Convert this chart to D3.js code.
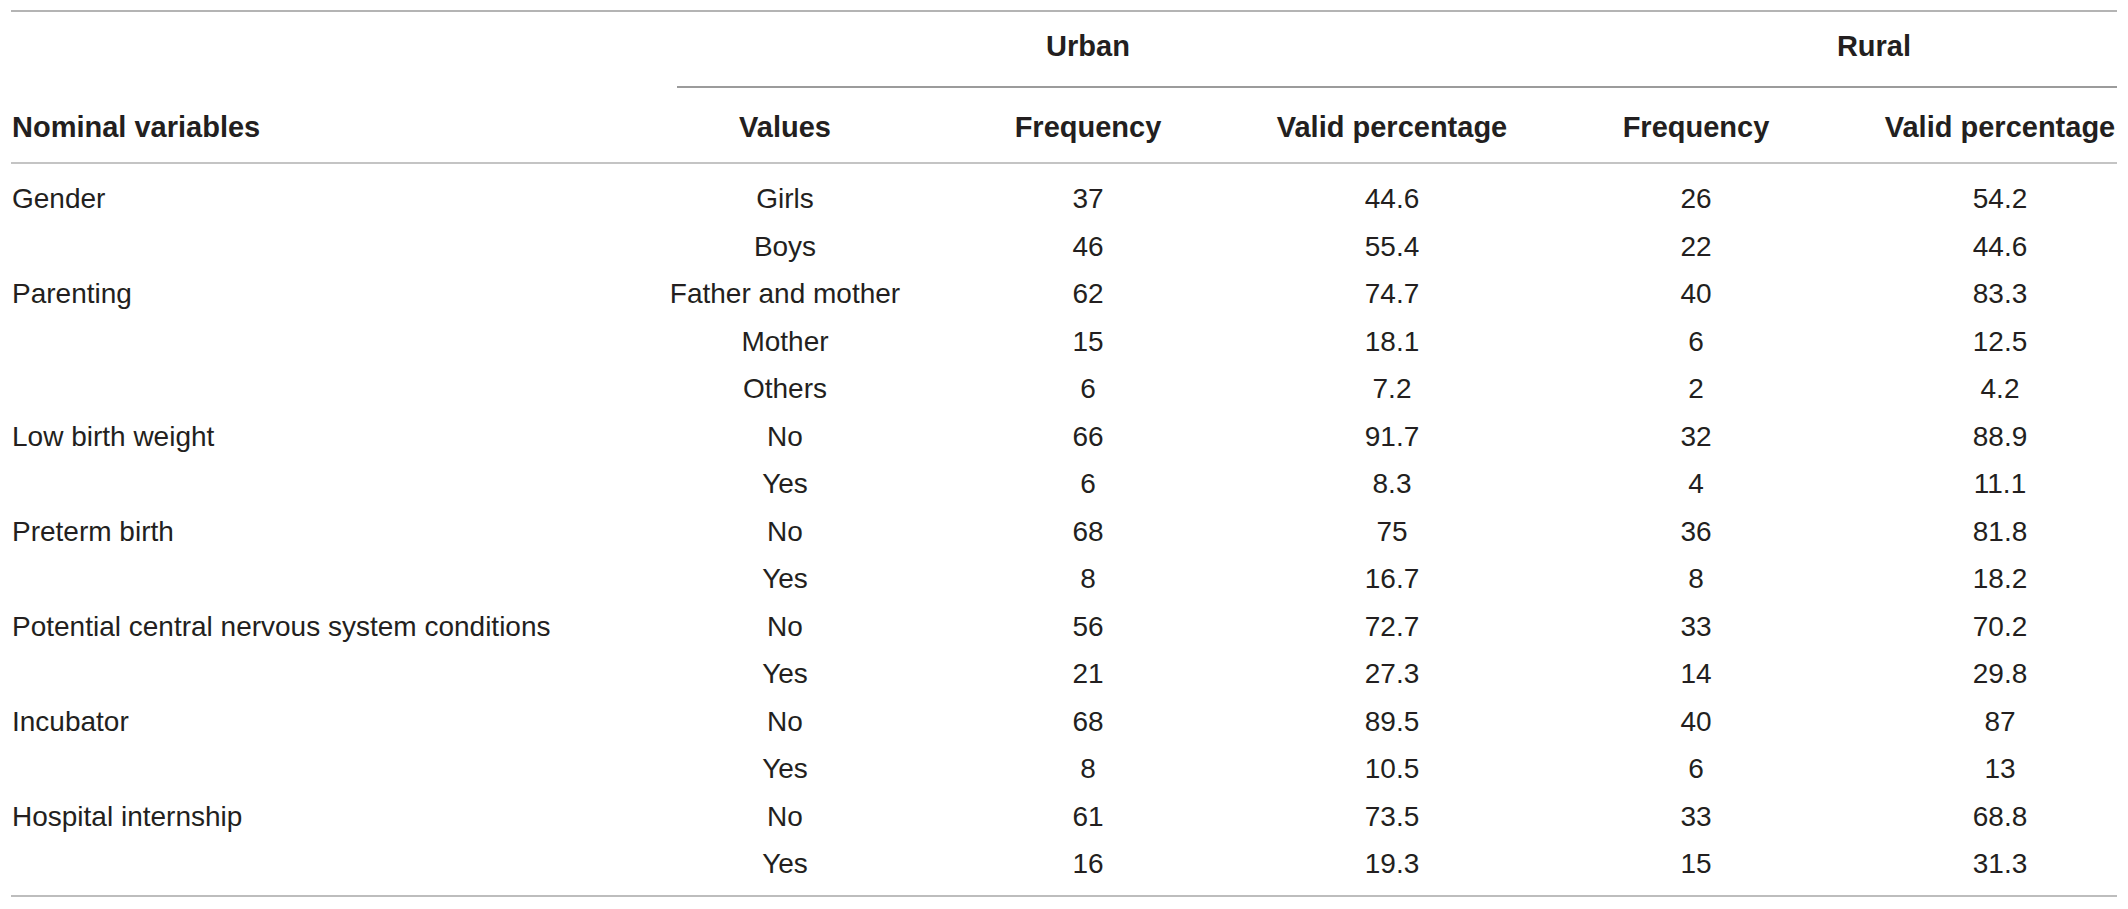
<!DOCTYPE html>
<html>
<head>
<meta charset="utf-8">
<script src="https://cdn.jsdelivr.net/npm/d3@7"></script>
<style>
  html, body { margin: 0; padding: 0; background: #fff; }
  svg text { font-family: "Liberation Sans", Arial, Helvetica, sans-serif; fill: #231f20; }
</style>
</head>
<body>
<div id="table"></div>
<script>
  'use strict';

  // table data, one entry per row
  var variables = ['Gender', '', 'Parenting', '', '', 'Low birth weight', '', 'Preterm birth', '',
    'Potential central nervous system conditions', '', 'Incubator', '', 'Hospital internship', ''];
  var values = ['Girls', 'Boys', 'Father and mother', 'Mother', 'Others', 'No', 'Yes', 'No', 'Yes',
    'No', 'Yes', 'No', 'Yes', 'No', 'Yes'];
  var urbanFreq = ['37', '46', '62', '15', '6', '66', '6', '68', '8', '56', '21', '68', '8', '61', '16'];
  var urbanPct = ['44.6', '55.4', '74.7', '18.1', '7.2', '91.7', '8.3', '75', '16.7', '72.7', '27.3', '89.5', '10.5', '73.5', '19.3'];
  var ruralFreq = ['26', '22', '40', '6', '2', '32', '4', '36', '8', '33', '14', '40', '6', '33', '15'];
  var ruralPct = ['54.2', '44.6', '83.3', '12.5', '4.2', '88.9', '11.1', '81.8', '18.2', '70.2', '29.8', '87', '13', '68.8', '31.3'];

  var groupLabels = ['Urban', 'Rural'];
  var columnLabels = ['Nominal variables', 'Values', 'Frequency', 'Valid percentage', 'Frequency', 'Valid percentage'];

  var width = 2128, height = 909;
  var left = 11, right = 2117;

  var $svg = d3.select('#table')
    .append('svg').attr('width', width).attr('height', height);

  // column centres (first column is left aligned)
  var colKeys = ['variable', 'value', 'uFreq', 'uPct', 'rFreq', 'rPct'];
  var colX = d3.scaleOrdinal().domain(colKeys).range([12, 785, 1088, 1392, 1696, 2000]);
  var groupX = d3.scaleOrdinal().domain(groupLabels).range([1088, 1874]);

  var y = d3.scaleLinear().domain([0, values.length - 1]).range([208, 873]);

  // rules
  var rules = [
    { x1: left, x2: right, y: 11, color: '#9b9b9b', w: 1.6 },
    { x1: 677, x2: right, y: 87, color: '#9b9b9b', w: 2 },
    { x1: left, x2: right, y: 163, color: '#c4c4c4', w: 2 },
    { x1: left, x2: right, y: 896, color: '#bdbdbd', w: 2 }
  ];
  $svg.selectAll('line.rule').data(rules).enter()
    .append('line').attr('class', 'rule')
    .attr('x1', function(d) { return d.x1; })
    .attr('x2', function(d) { return d.x2; })
    .attr('y1', function(d) { return d.y; })
    .attr('y2', function(d) { return d.y; })
    .attr('stroke', function(d) { return d.color; })
    .attr('stroke-width', function(d) { return d.w; });

  // group headers
  $svg.selectAll('text.group').data(groupLabels).enter()
    .append('text').attr('class', 'group')
    .attr('x', function(d) { return groupX(d); })
    .attr('y', 56)
    .attr('text-anchor', 'middle')
    .attr('font-weight', 'bold')
    .attr('font-size', '29px')
    .text(function(d) { return d; });

  // column headers
  $svg.selectAll('text.colhead').data(columnLabels).enter()
    .append('text').attr('class', 'colhead')
    .attr('x', function(d, i) { return colX(colKeys[i]); })
    .attr('y', 137)
    .attr('text-anchor', function(d, i) { return i === 0 ? 'start' : 'middle'; })
    .attr('font-weight', 'bold')
    .attr('font-size', '29px')
    .text(function(d) { return d; });

  // body cells
  var cols = [variables, values, urbanFreq, urbanPct, ruralFreq, ruralPct];
  var cells = [];
  cols.forEach(function(col, c) {
    col.forEach(function(v, r) {
      if (v !== '') cells.push({ c: c, r: r, v: v });
    });
  });

  $svg.selectAll('text.cell').data(cells).enter()
    .append('text').attr('class', 'cell')
    .attr('x', function(d) { return colX(colKeys[d.c]); })
    .attr('y', function(d) { return y(d.r); })
    .attr('text-anchor', function(d) { return d.c === 0 ? 'start' : 'middle'; })
    .attr('font-size', '28px')
    .text(function(d) { return d.v; });
</script>
</body>
</html>
